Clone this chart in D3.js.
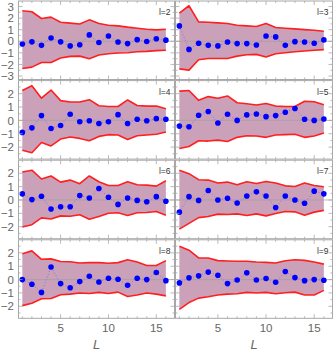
<!DOCTYPE html>
<html><head><meta charset="utf-8">
<script src="https://cdn.jsdelivr.net/npm/d3@7"></script>
<style>body{margin:0;background:#fff}svg{display:block}</style>
</head><body>
<script>
// ---- data ----
const Lvals = d3.range(1, 17);
const panelLabels = ["l=2","l=3","l=4","l=5","l=6","l=7","l=8","l=9"];
const xTicks = [5, 10, 15];
const yTicksRow1 = [-3,-2,-1,0,1,2,3];
const yTicksRest = [-2,-1,0,1,2];

const points_l2 = [-0.23,-0.05,-0.35,0.29,-0.05,-0.4,-0.3,0.55,-0.1,0.46,-0.06,-0.2,0.14,-0.02,0.22,0.1];
const upper_l2  = [2.64,2.55,1.97,2.09,1.65,1.57,1.5,1.85,1.54,1.39,1.33,1.22,1.13,1.04,0.99,1.04];
const lower_l2  = [-2.35,-2.23,-1.83,-1.83,-1.45,-1.3,-1.28,-1.51,-1.19,-1.07,-1.01,-0.99,-0.9,-0.87,-0.81,-0.78];

const points_l3 = [1.33,-0.7,-0.17,-0.35,-0.4,-0.06,-0.2,-0.2,-0.32,0.46,0.38,-0.35,-0.03,-0.06,-0.17,0.12];
const upper_l3  = [2.43,3.07,1.68,1.65,1.59,1.54,1.39,1.33,1.28,1.54,1.19,1.13,1.07,1.01,0.96,0.87];
const lower_l3  = [-2.38,-2.49,-1.59,-1.48,-1.48,-1.48,-1.28,-1.16,-1.13,-1.36,-1.07,-0.99,-0.9,-0.84,-0.78,-0.72];

const points_l4 = [-0.9,-0.56,0.36,-0.61,-0.38,0.46,-0.1,-0.03,-0.23,-0.1,0.43,-0.23,0.08,-0.03,0.13,0.08];
const upper_l4  = [2.24,2.6,1.66,2.27,1.48,1.38,1.38,1.55,1.1,1.04,1.04,1.53,1.12,1.07,1.07,0.87];
const lower_l4  = [-2.24,-2.42,-1.66,-1.91,-1.4,-1.25,-1.35,-1.53,-1.2,-1.07,-1.1,-1.43,-1.15,-1.1,-1.04,-0.87];

const points_l5 = [-0.43,-0.48,0.38,0.66,-0.2,0.46,0,0.41,0.48,0.28,0.36,0.61,0.89,0.08,0,0.1];
const upper_l5  = [2.19,2.24,1.5,1.78,1.66,1.83,1.32,1.25,1.15,1.27,1.07,1.04,1.04,1.43,1.4,1.17];
const lower_l5  = [-2.11,-1.96,-1.53,-1.55,-1.48,-1.58,-1.27,-1.15,-1.17,-1.27,-1.1,-1.07,-1.04,-1.27,-1.17,-0.94];

const points_l6 = [0.46,0.03,0.28,-0.68,-0.51,-0.51,0.33,0.15,0.86,0.2,-0.33,0.15,-0.03,-0.13,0.25,-0.1];
const upper_l6  = [2.1,2.23,1.57,1.8,1.34,1.49,1.22,1.8,1.37,1.09,1.09,1.37,1.14,1.11,1.04,1.44];
const lower_l6  = [-2.03,-1.85,-1.34,-1.42,-1.19,-1.22,-1.11,-1.44,-1.24,-0.99,-0.96,-1.16,-0.96,-0.94,-0.86,-1.14];

const points_l7 = [-0.91,0.25,-0.03,0.71,0,0.13,-0.23,0.3,0.61,0.3,-0.56,0.3,0,-0.25,0.66,0.46];
const upper_l7  = [2.23,1.97,1.52,1.49,1.27,1.34,1.14,1.37,1.24,1.39,1.27,1.06,1.01,1.27,1.09,0.99];
const lower_l7  = [-2.18,-1.75,-1.32,-1.24,-1.06,-1.09,-1.04,-1.16,-1.04,-1.19,-1.01,-0.86,-0.89,-1.14,-0.91,-0.78];

const points_l8 = [0,-0.35,-0.96,0.94,-0.3,-0.61,-0.15,0.25,-0.18,0.1,0.03,-0.43,0.1,0,0.53,-0.08];
const upper_l8  = [1.94,2.15,1.52,1.55,1.36,1.34,1.24,1.27,1.27,1.22,1.27,1.49,1.32,1.06,1.06,1.42];
const lower_l8  = [-1.95,-1.77,-1.44,-1.42,-1.14,-1.09,-1.01,-1.04,-0.96,-1.04,-0.94,-1.27,-1.16,-1.01,-1.09,-1.22];

const points_l9 = [-0.25,0.13,0.28,0.56,0.33,-0.3,-0.03,0.51,-0.03,0.08,-0.2,0.61,0.15,-0.08,0,-0.05];
const upper_l9  = [2.5,2.2,1.62,1.62,1.42,1.39,1.37,1.37,1.32,1.29,1.24,1.41,1.49,1.44,1.32,1.16];
const lower_l9  = [-2.23,-1.72,-1.39,-1.29,-1.16,-1.09,-1.06,-0.96,-1.01,-0.96,-1.06,-0.99,-0.94,-1.16,-1.16,-0.81];

const pointsAll = [points_l2,points_l3,points_l4,points_l5,points_l6,points_l7,points_l8,points_l9];
const upperAll  = [upper_l2,upper_l3,upper_l4,upper_l5,upper_l6,upper_l7,upper_l8,upper_l9];
const lowerAll  = [lower_l2,lower_l3,lower_l4,lower_l5,lower_l6,lower_l7,lower_l8,lower_l9];

// ---- layout ----
const W = 335, H = 352;
const colX = [[18.5, 174.5], [175.5, 332.5]];
const rowPitch = 79.6, rowTop0 = 1, rowH = 78.5;
const xDomain = [0.6, 16.9];
const yDomRow1 = [-3.3, 3.48];
const yDomRest = [-2.9, 2.98];

const svg = d3.select("body").append("svg").attr("width", W).attr("height", H)
  .style("font-family", "'Liberation Sans', Arial, sans-serif");

const frameColor = "#a8a8a8";
const labelColor = "#666";

const defs = svg.append("defs");

for (let i = 0; i < 8; i++) {
  const col = i % 2, row = Math.floor(i / 2);
  const x = d3.scaleLinear().domain(xDomain).range(colX[col]);
  const top = rowTop0 + row * rowPitch, bottom = top + rowH;
  const y = d3.scaleLinear().domain(row === 0 ? yDomRow1 : yDomRest).range([bottom, top]);
  const yTicks = row === 0 ? yTicksRow1 : yTicksRest;
  const pts = pointsAll[i], up = upperAll[i], lo = lowerAll[i];
  const [x0, x1] = colX[col];

  defs.append("clipPath").attr("id", "clip" + i).append("rect")
    .attr("x", x0).attr("y", top).attr("width", x1 - x0).attr("height", bottom - top);
  const g = svg.append("g");
  const gc = g.append("g").attr("clip-path", `url(#clip${i})`);

  // band
  const area = d3.area().x((d, k) => x(Lvals[k])).y0((d, k) => y(lo[k])).y1((d, k) => y(up[k]));
  gc.append("path").datum(up).attr("d", area).attr("fill", "#caa1b9");

  // zero line
  gc.append("line").attr("x1", x0).attr("x2", x1).attr("y1", y(0)).attr("y2", y(0))
    .attr("stroke", "#a0a0a0").attr("stroke-width", 0.9).attr("opacity", 0.8);

  // red bounds
  const line = d3.line().x((d, k) => x(Lvals[k])).y(d => y(d));
  [up, lo].forEach(arr => gc.append("path").datum(arr).attr("d", line)
    .attr("fill", "none").attr("stroke", "#ff1f1f").attr("stroke-width", 1.6)
    .attr("stroke-linejoin", "round"));

  // dotted connection
  gc.append("path").datum(pts).attr("d", line).attr("fill", "none")
    .attr("stroke", "#7070e0").attr("stroke-width", 0.9).attr("stroke-dasharray", "1,2");

  // points
  gc.selectAll("circle.p").data(pts).enter().append("circle")
    .attr("cx", (d, k) => x(Lvals[k])).attr("cy", d => y(d)).attr("r", 2.8).attr("fill", "#0000ff");

  // frame
  g.append("rect").attr("x", x0).attr("y", top).attr("width", x1 - x0).attr("height", bottom - top)
    .attr("fill", "none").attr("stroke", frameColor).attr("stroke-width", 1);

  // x ticks (major at 5,10,15; minor at integers)
  const tk = g.append("g").attr("stroke", frameColor).attr("stroke-width", 0.8);
  d3.range(1, 17).forEach(v => {
    const len = xTicks.includes(v) ? 4 : 2;
    tk.append("line").attr("x1", x(v)).attr("x2", x(v)).attr("y1", bottom).attr("y2", bottom - len);
    tk.append("line").attr("x1", x(v)).attr("x2", x(v)).attr("y1", top).attr("y2", top + len);
  });
  // y ticks (major integers, minor 0.5)
  const yd = y.domain();
  d3.range(Math.ceil(yd[0] * 2) / 2, yd[1], 0.5).forEach(v => {
    const major = Math.abs(v - Math.round(v)) < 1e-6;
    const len = major ? 4 : 2;
    tk.append("line").attr("x1", x0).attr("x2", x0 + len).attr("y1", y(v)).attr("y2", y(v));
    tk.append("line").attr("x1", x1).attr("x2", x1 - len).attr("y1", y(v)).attr("y2", y(v));
  });

  // y tick labels (left column only)
  if (col === 0) {
    yTicks.forEach(v => g.append("text").attr("x", 14).attr("y", y(v)).attr("dy", "0.36em")
      .attr("text-anchor", "end").attr("font-size", 11.5).attr("fill", labelColor)
      .text(v < 0 ? "\u2212" + Math.abs(v) : String(v)));
  }
  // x tick labels (bottom row only)
  if (row === 3) {
    xTicks.forEach(v => g.append("text").attr("x", x(v)).attr("y", bottom + 13.5)
      .attr("text-anchor", "middle").attr("font-size", 11.5).attr("fill", labelColor).text(v));
    g.append("text").attr("x", (x0 + x1) / 2).attr("y", 349)
      .attr("text-anchor", "middle").attr("font-size", 13).attr("font-style", "italic")
      .attr("fill", labelColor).text("L");
  }

  // panel label
  g.append("text").attr("x", x1 - 4).attr("y", top + 14).attr("text-anchor", "end")
    .attr("font-size", 8.5).attr("fill", "#333").text(panelLabels[i]);
}
</script>
</body></html>
